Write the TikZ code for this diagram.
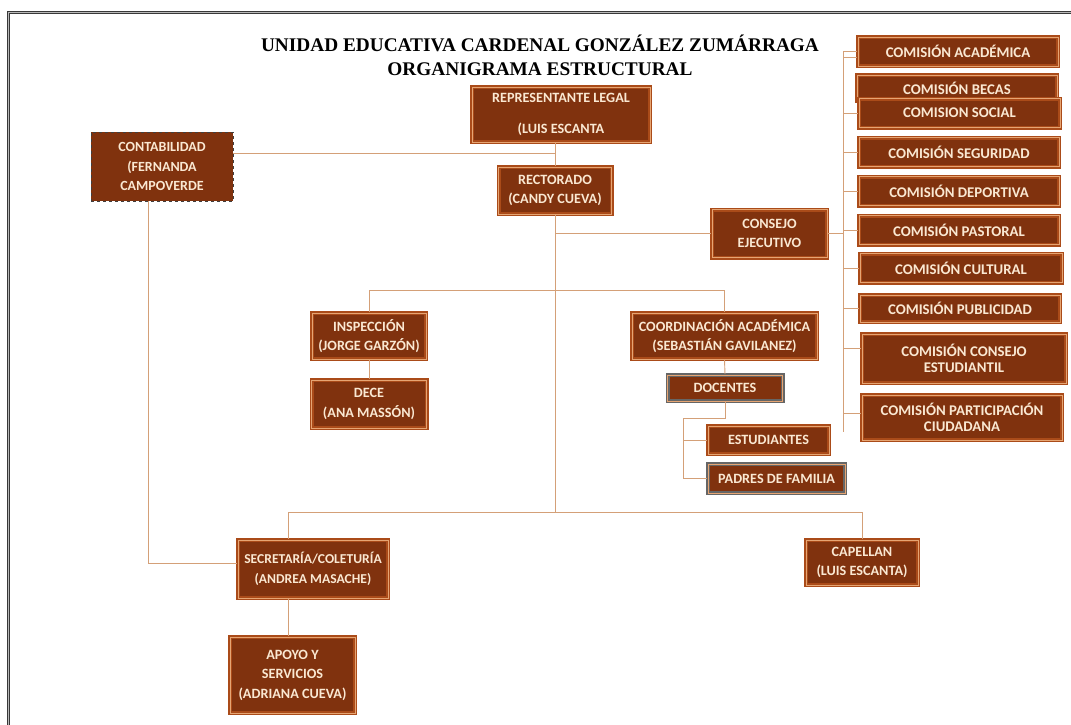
\documentclass[tikz,border=0pt]{standalone}
\usepackage{fontspec}
\setmainfont{Liberation Serif}
\newfontfamily\carlito{Carlito}
\usepackage{tikz}

\definecolor{cafe}{RGB}{128,50,14}
\definecolor{borde}{RGB}{170,75,25}
\definecolor{filete}{RGB}{230,165,115}
\definecolor{letra}{RGB}{250,232,210}
\definecolor{enlace}{RGB}{212,160,120}

\begin{document}
\begin{tikzpicture}
    [x = 1pt, y = -1pt,
     cargo/.style = {rectangle, fill = cafe, draw = borde, double = filete, double distance = .8pt,
                     line width = 1.6pt, text = letra, align = center, inner sep = 0pt,
                     font = \carlito\bfseries\fontsize{14.2}{19.5}\selectfont},
     cargogris/.style = {cargo, draw = gray!80!black},
     comision/.style = {cargo, minimum width = 200, minimum height = 29,
                        font = \carlito\bfseries\fontsize{14.8}{16}\selectfont},
     conta/.style = {rectangle, fill = cafe, draw = black!75, dashed, line width = .8pt, text = letra,
                     align = center, inner sep = 0pt, font = \carlito\bfseries\fontsize{14}{19.5}\selectfont},
     linea/.style = {draw = enlace, line width = .9pt},
     marco/.style = {draw = gray!45!black, double = gray!55, double distance = 1.2pt, line width = .8pt}]

    \useasboundingbox (0,0) rectangle (1071,724);
    \draw[marco] (1080,12.5) -- (8.5,12.5) -- (8.5,735);

    \node[font = \bfseries\fontsize{19.3}{24}\selectfont, align = center] (titulo) at (540,55)
      {UNIDAD EDUCATIVA CARDENAL GONZÁLEZ ZUMÁRRAGA\\ORGANIGRAMA ESTRUCTURAL};

    \node[cargo, minimum width = 178, minimum height = 55] (rep) at (561,114.5) {REPRESENTANTE LEGAL\\[12pt](LUIS ESCANTA};
    \node[conta, minimum width = 142, minimum height = 69] (contab) at (162,166.5) {CONTABILIDAD\\(FERNANDA\\CAMPOVERDE};
    \node[cargo, minimum width = 113, minimum height = 47] (rect) at (555,190.5) {RECTORADO\\(CANDY CUEVA)};
    \node[cargo, minimum width = 115, minimum height = 48] (consejo) at (769.5,233.5) {CONSEJO\\EJECUTIVO};

    \node[comision] (acad) at (958,51.5) {COMISIÓN ACADÉMICA};
    \node[comision, minimum height = 26] (becas) at (957,88) {COMISIÓN BECAS};
    \node[comision, minimum width = 201] (social) at (959.5,113) {COMISION SOCIAL};
    \node[comision] (segur) at (959,152) {COMISIÓN SEGURIDAD};
    \node[comision] (depor) at (959,191) {COMISIÓN DEPORTIVA};
    \node[comision] (pasto) at (959,230) {COMISIÓN PASTORAL};
    \node[comision, minimum width = 202] (cultu) at (961,268) {COMISIÓN CULTURAL};
    \node[comision, minimum height = 27] (publi) at (960,308.5) {COMISIÓN PUBLICIDAD};
    \node[comision, minimum width = 204, minimum height = 49] (estud) at (964,358.5) {COMISIÓN CONSEJO\\ESTUDIANTIL};
    \node[comision, minimum height = 45] (parti) at (962,417.5) {COMISIÓN PARTICIPACIÓN\\CIUDADANA};

    \node[cargo, minimum width = 114, minimum height = 46] (insp) at (369,336) {INSPECCIÓN\\(JORGE GARZÓN)};
    \node[cargo, minimum width = 115, minimum height = 48] (dece) at (369,404) {DECE\\(ANA MASSÓN)};
    \node[cargo, minimum width = 185, minimum height = 46] (coord) at (724.5,336) {COORDINACIÓN ACADÉMICA\\(SEBASTIÁN GAVILANEZ)};
    \node[cargogris, minimum width = 115, minimum height = 26] (docentes) at (725,388) {DOCENTES};
    \node[cargo, minimum width = 121, minimum height = 28] (estudiantes) at (768.5,440) {ESTUDIANTES};
    \node[cargogris, minimum width = 137, minimum height = 29] (padres) at (776.5,478.5) {PADRES DE FAMILIA};

    \node[cargo, minimum width = 150, minimum height = 58, font = \carlito\bfseries\fontsize{13.6}{19.5}\selectfont] (secre) at (313,569) {SECRETARÍA/COLETURÍA\\(ANDREA MASACHE)};
    \node[cargo, minimum width = 112, minimum height = 45] (capellan) at (862,562.5) {CAPELLAN\\(LUIS ESCANTA)};
    \node[cargo, minimum width = 125, minimum height = 76] (apoyo) at (292.5,675) {APOYO Y\\SERVICIOS\\(ADRIANA CUEVA)};

    \coordinate (cruce) at (555,153);
    \coordinate (eje) at (843,51);
    \coordinate (ejefin) at (843,432);
    \coordinate (medio) at (555,290);
    \coordinate (bajo) at (555,512);
    \coordinate (izq) at (288,512);
    \coordinate (der) at (862,512);
    \coordinate (ramal) at (683,418);
    \coordinate (lado) at (148,563);

    \draw[linea] (contab.east |- cruce) -- (cruce);
    \draw[linea] (rep.south -| rect.north) -- (rect.north);
    \draw[linea] (rect.south) -- (bajo);
    \draw[linea] (rect.south |- consejo.west) -- (consejo.west);
    \draw[linea] (consejo.east) -- (consejo.east -| eje);
    \draw[linea] (eje) -- (ejefin);
    \foreach \c/\y in {acad/51,acad/57,social/113,segur/152,depor/191,pasto/230,cultu/268,publi/308,estud/348,parti/413}
      \draw[linea] (eje |- 0,\y) -- (\c.west |- 0,\y);

    \draw[linea] (insp.north |- medio) -- (coord.north |- medio);
    \foreach \from/ \to in {insp/dece,coord/docentes}
      \draw[linea] (\from.south) -- (\to.north);
    \draw[linea] (insp.north) -- (insp.north |- medio);
    \draw[linea] (coord.north) -- (coord.north |- medio);
    \draw[linea] (docentes.south) |- (ramal) -- (ramal |- padres.west) -- (padres.west);
    \draw[linea] (ramal |- estudiantes.west) -- (estudiantes.west);

    \draw[linea] (izq) -- (der);
    \draw[linea] (izq) -- (izq |- secre.north);
    \draw[linea] (der) -- (capellan.north);
    \draw[linea] (izq |- secre.south) -- (izq |- apoyo.north);
    \draw[linea] (contab.south -| lado) -- (lado) -- (secre.west |- lado);
\end{tikzpicture}
\end{document}
